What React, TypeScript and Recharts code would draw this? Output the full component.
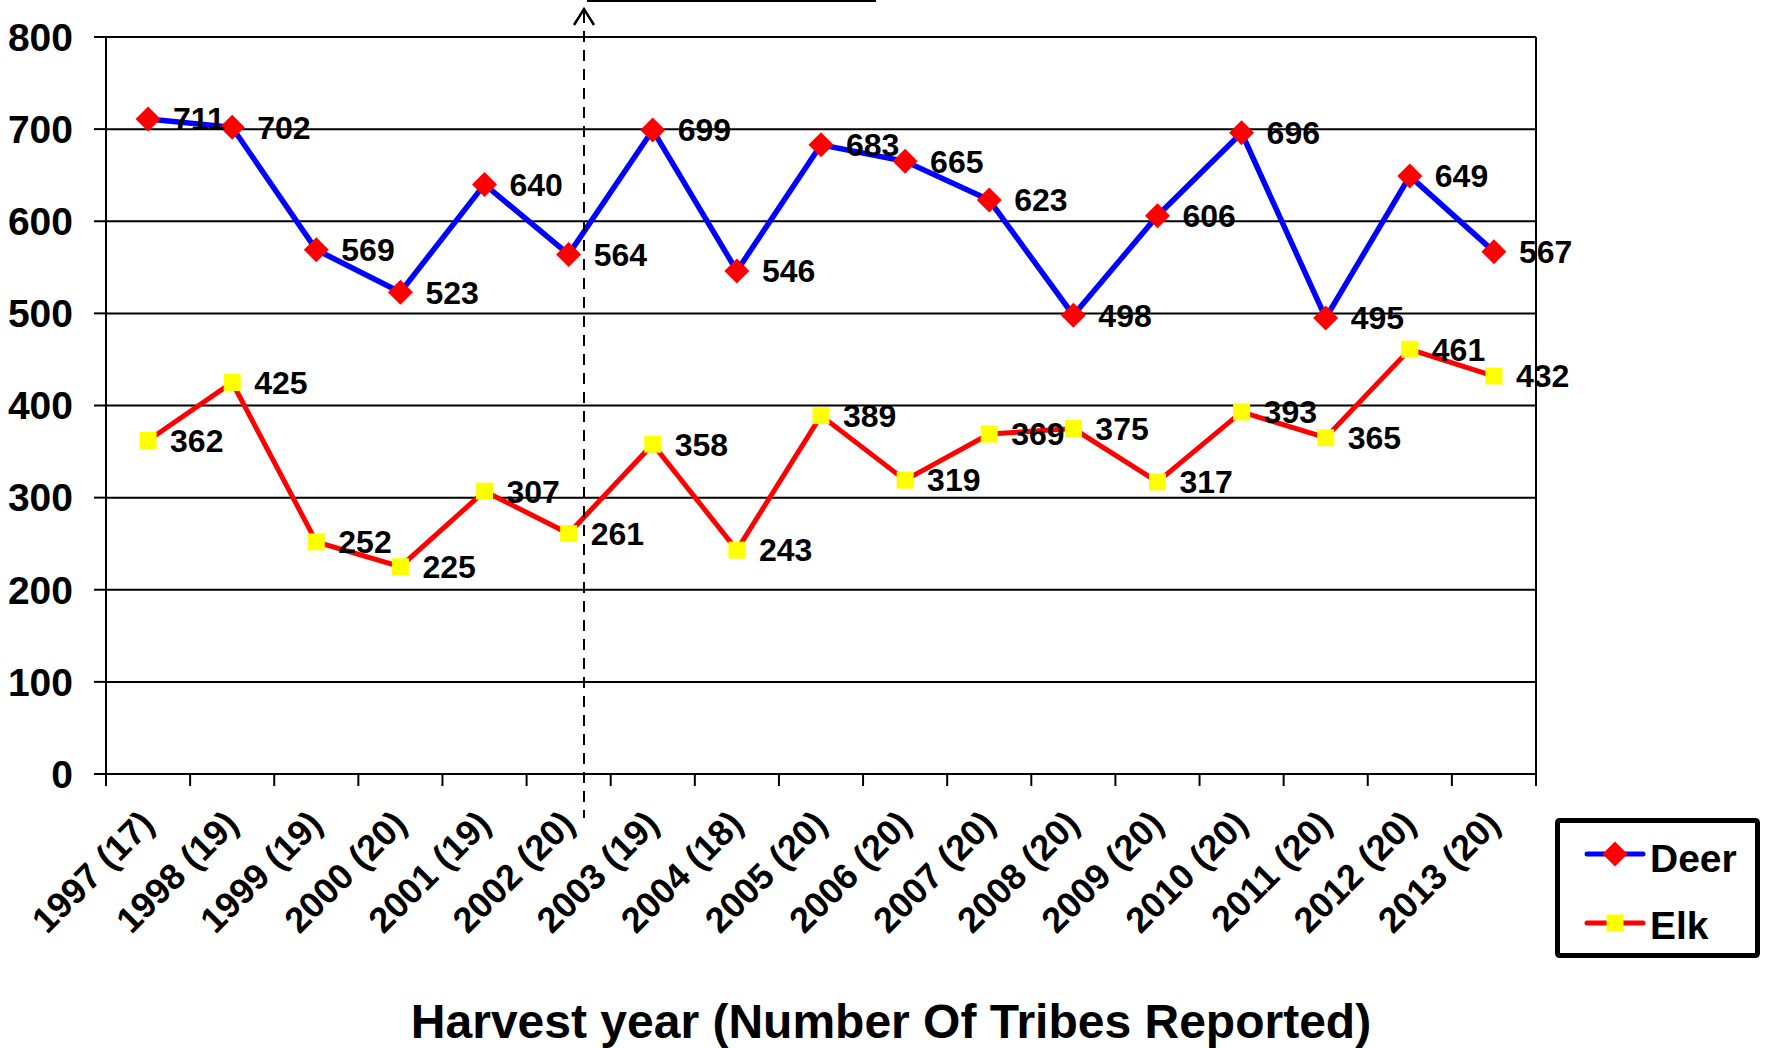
import React from 'react'
import {
  LineChart,
  Line,
  XAxis,
  YAxis,
  CartesianGrid,
  ReferenceLine,
  LabelList,
  Legend,
} from 'recharts'

const years = [
  '1997 (17)', '1998 (19)', '1999 (19)', '2000 (20)', '2001 (19)', '2002 (20)',
  '2003 (19)', '2004 (18)', '2005 (20)', '2006 (20)', '2007 (20)', '2008 (20)',
  '2009 (20)', '2010 (20)', '2011 (20)', '2012 (20)', '2013 (20)',
]
const deer = [711, 702, 569, 523, 640, 564, 699, 546, 683, 665, 623, 498, 606, 696, 495, 649, 567]
const elk = [362, 425, 252, 225, 307, 261, 358, 243, 389, 319, 369, 375, 317, 393, 365, 461, 432]
const yTicks = [0, 100, 200, 300, 400, 500, 600, 700, 800]
const xTicks = [...years.map((_, i) => i), years.length]

const data = years.map((year, i) => ({ x: i + 0.5, year, deer: deer[i], elk: elk[i] }))

const W = 1768
const H = 1048
const M = { top: 37, right: 232, left: 0, bottom: 0 }
const Y_W = 106
const PLOT_W = W - M.right - Y_W
const BAND = PLOT_W / years.length
const FONT = "'Liberation Sans', Arial, Helvetica, sans-serif"

function renderXTick(props: any) {
  const { x, y, payload } = props
  const i = payload.value
  if (i >= years.length) return <g />
  const tx = x + BAND / 2 + 8
  const ty = y + 38
  return (
    <text
      x={tx}
      y={ty}
      transform={`rotate(-45 ${tx} ${ty})`}
      textAnchor="end"
      fontSize={36}
      fontWeight="bold"
      fill="#000"
    >
      {years[i]}
    </text>
  )
}

function renderDiamond(props: any) {
  const { cx, cy, index } = props
  const r = 12.5
  return (
    <polygon
      key={`deer-${index}`}
      points={`${cx},${cy - r} ${cx + r},${cy} ${cx},${cy + r} ${cx - r},${cy}`}
      fill="#FF0000"
    />
  )
}

function renderSquare(props: any) {
  const { cx, cy, index } = props
  return <rect key={`elk-${index}`} x={cx - 8.5} y={cy - 8.5} width={17} height={17} fill="#FFFF00" />
}

function renderLegend() {
  return (
    <svg width={205} height={140} style={{ fontFamily: FONT }}>
      <rect x={2.5} y={2.5} width={200} height={135} rx={2} fill="#fff" stroke="#000" strokeWidth={5} />
      <line x1={32} x2={88} y1={36} y2={36} stroke="#0000FF" strokeWidth={5} strokeLinecap="round" />
      {renderDiamond({ cx: 60, cy: 36, index: 'lg' })}
      <text x={95} y={54} fontSize={39} fontWeight="bold" fill="#000">Deer</text>
      <line x1={32} x2={88} y1={105} y2={105} stroke="#FF0000" strokeWidth={5} strokeLinecap="round" />
      {renderSquare({ cx: 60, cy: 105, index: 'lg' })}
      <text x={95} y={121} fontSize={39} fontWeight="bold" fill="#000">Elk</text>
    </svg>
  )
}

export default function App() {
  return (
    <div style={{ position: 'absolute', left: 0, top: 0, width: W, height: H, background: '#fff', fontFamily: FONT }}>
      <LineChart width={W} height={H} data={data} margin={M}>
        <CartesianGrid vertical={false} stroke="#000" strokeWidth={2} />
        <XAxis
          dataKey="x"
          type="number"
          domain={[0, years.length]}
          ticks={xTicks}
          interval={0}
          height={H - 774}
          tickSize={12}
          axisLine={{ stroke: '#000', strokeWidth: 2 }}
          tickLine={{ stroke: '#000', strokeWidth: 2 }}
          tick={renderXTick}
        />
        <YAxis
          type="number"
          domain={[0, 800]}
          ticks={yTicks}
          interval={0}
          width={Y_W}
          tickSize={12}
          tickMargin={21}
          axisLine={{ stroke: '#000', strokeWidth: 2 }}
          tickLine={{ stroke: '#000', strokeWidth: 2 }}
          tick={{ fill: '#000', fontSize: 39, fontWeight: 'bold' }}
        />
        <ReferenceLine x={years.length} stroke="#000" strokeWidth={2} />
        <Legend
          layout="horizontal"
          verticalAlign="middle"
          align="center"
          content={renderLegend}
          wrapperStyle={{ position: 'absolute', left: 1555, top: 818, width: 205, height: 140 }}
        />
        <Line
          dataKey="elk"
          stroke="#FF0000"
          strokeWidth={5}
          dot={renderSquare}
          activeDot={false}
          isAnimationActive={false}
        >
          <LabelList dataKey="elk" position="right" offset={22} fill="#000" fontSize={32} fontWeight="bold" />
        </Line>
        <Line
          dataKey="deer"
          stroke="#0000FF"
          strokeWidth={5.5}
          dot={renderDiamond}
          activeDot={false}
          isAnimationActive={false}
        >
          <LabelList dataKey="deer" position="right" offset={25} fill="#000" fontSize={32} fontWeight="bold" />
        </Line>
      </LineChart>
      <svg
        width={W}
        height={H}
        style={{ position: 'absolute', left: 0, top: 0, pointerEvents: 'none', fontFamily: FONT }}
      >
        <line x1={584} x2={584} y1={12} y2={818} stroke="#000" strokeWidth={2} strokeDasharray="11 8" />
        <polyline points="574,25 584,9 594,25" fill="none" stroke="#000" strokeWidth={2.5} />
        <line x1={587} x2={876} y1={1} y2={1} stroke="#000" strokeWidth={2} />
        <text x={891} y={1038} textAnchor="middle" fontSize={48} fontWeight="bold" fill="#000">
          Harvest year (Number Of Tribes Reported)
        </text>
      </svg>
    </div>
  )
}
